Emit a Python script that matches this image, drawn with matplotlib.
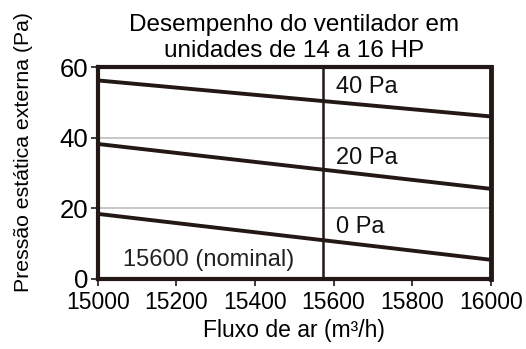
import matplotlib.pyplot as plt

plt.rcParams['font.family'] = ['Liberation Sans', 'DejaVu Sans']

# airflow range (m3/h) and static pressure at each end, per curve
flow = [15000, 16000]
curve_labels = ['40 Pa', '20 Pa', '0 Pa']
pressure_40 = [56.2, 46.0]
pressure_20 = [38.2, 25.5]
pressure_0 = [18.4, 5.4]
label_y = [54.4, 34.3, 14.7]
nominal_flow = 15572
x_ticks = [15000, 15200, 15400, 15600, 15800, 16000]
y_ticks = [0, 20, 40, 60]

ink = '#231815'

fig = plt.figure(figsize=(5.26, 3.49), dpi=100)
ax = fig.add_axes([0.186, 0.201, 0.747, 0.607])

for yv in [20, 40, 60]:
    ax.axhline(yv, color='#bdbdbd', lw=1.2, zorder=1)

for vals in [pressure_40, pressure_20, pressure_0]:
    ax.plot(flow, vals, color=ink, lw=2.8, solid_capstyle='butt', zorder=3)

ax.axvline(nominal_flow, color=ink, lw=1.8, zorder=2)

for lab, yv in zip(curve_labels, label_y):
    ax.text(15605, yv, lab, fontsize=17, va='center', ha='left', color='#111111')
ax.text(15065, 5.4, '15600 (nominal)', fontsize=17, va='center', ha='left', color='#222222')

ax.set_xlim(15000, 16000)
ax.set_ylim(0, 60)
ax.set_xticks(x_ticks)
ax.set_yticks(y_ticks)
ax.tick_params(length=5, width=1.2, color=ink, pad=2)
ax.tick_params(axis='x', labelsize=16.5, pad=4)
ax.tick_params(axis='y', labelsize=18.5)
for s in ax.spines.values():
    s.set_color(ink)
    s.set_linewidth(3)
ax.spines['right'].set_linewidth(3.5)

ax.set_title('Desempenho do ventilador em\nunidades de 14 a 16 HP', fontsize=17.5, pad=7, linespacing=1.25)
ax.set_xlabel('Fluxo de ar (m³/h)', fontsize=16.5, labelpad=3)
ax.set_ylabel('Pressão estática externa (Pa)', fontsize=15.3)
ax.yaxis.set_label_coords(-0.165, 0.60)

fig.savefig('out.png', dpi=100)
